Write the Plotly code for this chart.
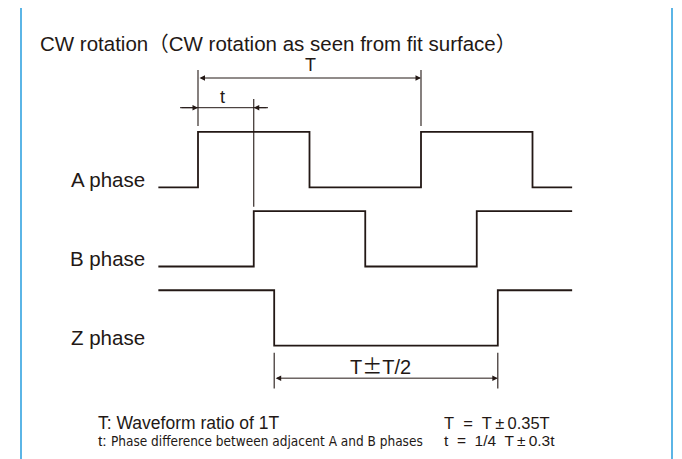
import plotly.graph_objects as go

# ---- data (electrical degrees; one period T = 360) ----
x_start, x_end = -64, 604
a_edges = [0, 180, 360, 540]        # A phase: rise, fall, rise, fall
b_edges = [90, 270, 450]            # B phase: rise, fall, rise
z_edges = [123, 484]                # Z phase: fall, rise
a_init, b_init, z_init = 0, 0, 1    # initial logic level
lane_names = ["A phase", "B phase", "Z phase"]
lane_base = [0, -1, -2]
amp = 0.7

PM_WIDE = "<span style='font-family:Noto Sans CJK JP'>±</span>"
PM = "\u2009±\u2009"
SP2 = "&nbsp; "
title_text = ("CW rotation<span style='font-family:Noto Sans CJK JP'>（</span>"
              "CW rotation as seen from fit surface<span style='font-family:Noto Sans CJK JP'>）</span>")
note_left = ["<span style='font-size:17.5px'>T: Waveform ratio of 1T</span>",
             "<span style='font-size:15.5px'>t: </span><span style='font-family:DejaVu Sans Condensed;font-size:13.5px'>"
             "Phase difference between adjacent A and B phases</span>"]
note_right = ["<span style='font-size:16.5px'>T" + SP2 + "=" + SP2 + "T" + PM + "0.35T</span>",
              "<span style='font-size:15.5px'>t" + SP2 + "=" + SP2 + "1/4" + SP2 + "T" + PM + "0.3t</span>"]
dim_T, dim_t, dim_Z = "T", "t", "T" + PM_WIDE + "T/2"

INK = "#231815"
BLUE = "#33a3e0"
FONT = "Liberation Sans, Arial, sans-serif"

# page body has an 8px margin: figure pixel = reference pixel - 8
OFF = 8
W, H = 674, 451
deg_px = 223 / 360          # pixels per degree
x0_px = 198 - OFF           # pixel of 0 deg
lane_px = 79.2              # pixels per lane unit
y0_px = 187.3 - OFF         # pixel of A-phase low level


def step_wave(edges, init):
    xs, ys = [x_start], [init]
    lvl = init
    for e in edges:
        xs += [e, e]
        ys += [lvl, 1 - lvl]
        lvl = 1 - lvl
    xs.append(x_end)
    ys.append(lvl)
    return xs, ys


fig = go.Figure()
for edges, init, base in zip([a_edges, b_edges, z_edges], [a_init, b_init, z_init], lane_base):
    xs, ys = step_wave(edges, init)
    fig.add_trace(go.Scatter(x=xs, y=[base + amp * v for v in ys], mode="lines",
                             line=dict(color=INK, width=1.8), hoverinfo="skip", showlegend=False))

# lane labels
for name, base in zip(lane_names, lane_base):
    fig.add_annotation(x=-82, y=base + 0.1, text=name, showarrow=False, xanchor="right",
                       yanchor="middle", font=dict(size=20.5, color=INK, family=FONT))

shapes = []
def vline(x, y0, y1, w=1.1):
    shapes.append(dict(type="line", xref="x", yref="y", x0=x, x1=x, y0=y0, y1=y1,
                       line=dict(color=INK, width=w)))
def hline(x0, x1, y, w=1.0):
    shapes.append(dict(type="line", xref="x", yref="y", x0=x0, x1=x1, y0=y, y1=y,
                       line=dict(color=INK, width=w)))
def arrow(x_tip, x_tail, y, both=False):
    fig.add_annotation(x=x_tip, y=y, ax=x_tail, ay=y, xref="x", yref="y", axref="x", ayref="y",
                       text="", showarrow=True, arrowhead=2, arrowside="end+start" if both else "end",
                       arrowsize=1.1, arrowwidth=1, arrowcolor=INK, standoff=0, startstandoff=0)

T_period = 360

# T dimension
yT = 1.38
vline(a_edges[0], 1.48, 0.775)
vline(a_edges[0] + T_period, 1.48, 0.775)
arrow(a_edges[0] + T_period, a_edges[0], yT, both=True)
fig.add_annotation(x=182, y=1.54, text=dim_T, showarrow=False, yanchor="middle",
                   font=dict(size=18, color=INK, family=FONT))

# t dimension
yt = 1.005
hline(a_edges[0] - 29, b_edges[0] + 23, yt)
vline(b_edges[0], 1.114, -0.245)
arrow(a_edges[0], a_edges[0] - 29, yt)
arrow(b_edges[0], b_edges[0] + 23, yt)
fig.add_annotation(x=39, y=1.14, text=dim_t, showarrow=False, yanchor="middle",
                   font=dict(size=18, color=INK, family=FONT))

# Z dimension
yz = -2.41
vline(z_edges[0], -2.088, -2.54)
vline(z_edges[1], -2.088, -2.54)
arrow(z_edges[1], z_edges[0], yz, both=True)
fig.add_annotation(x=294, y=-2.256, text=dim_Z, showarrow=False, yanchor="middle",
                   font=dict(size=20, color=INK, family=FONT))

# frame (light blue box)
def px(xp):
    return (xp - OFF) / W
def py(yp):
    return 1 - (yp - OFF) / H
shapes += [
    dict(type="line", xref="paper", yref="paper", x0=px(21), x1=px(21), y0=py(5.5), y1=-0.02,
         line=dict(color=BLUE, width=1.6)),
    dict(type="line", xref="paper", yref="paper", x0=px(672), x1=px(672), y0=py(5.5), y1=-0.02,
         line=dict(color=BLUE, width=1.6)),
    dict(type="line", xref="paper", yref="paper", x0=px(20.2), x1=px(672.8), y0=py(5.5), y1=py(5.5),
         line=dict(color=BLUE, width=1.6)),
]

# title
fig.add_annotation(x=px(38), y=py(42), xref="paper", yref="paper", text=title_text,
                   showarrow=False, xanchor="left", yanchor="middle",
                   font=dict(size=20.5, color=INK, family=FONT))

# notes (two-line blocks)
fig.add_annotation(x=px(96), y=py(431), xref="paper", yref="paper", text="<br>".join(note_left),
                   showarrow=False, xanchor="left", yanchor="middle", align="left",
                   font=dict(size=13.4, color=INK, family=FONT))
fig.add_annotation(x=px(441.5), y=py(431), xref="paper", yref="paper", text="<br>".join(note_right),
                   showarrow=False, xanchor="left", yanchor="middle", align="left",
                   font=dict(size=13.4, color=INK, family=FONT))

fig.update_layout(
    width=W, height=H, margin=dict(l=0, r=0, t=0, b=0),
    paper_bgcolor="white", plot_bgcolor="white", shapes=shapes,
    xaxis=dict(range=[-x0_px / deg_px, (W - x0_px) / deg_px], visible=False, fixedrange=True),
    yaxis=dict(range=[-(H - y0_px) / lane_px, y0_px / lane_px], visible=False, fixedrange=True),
)
fig.write_html("out.html")
